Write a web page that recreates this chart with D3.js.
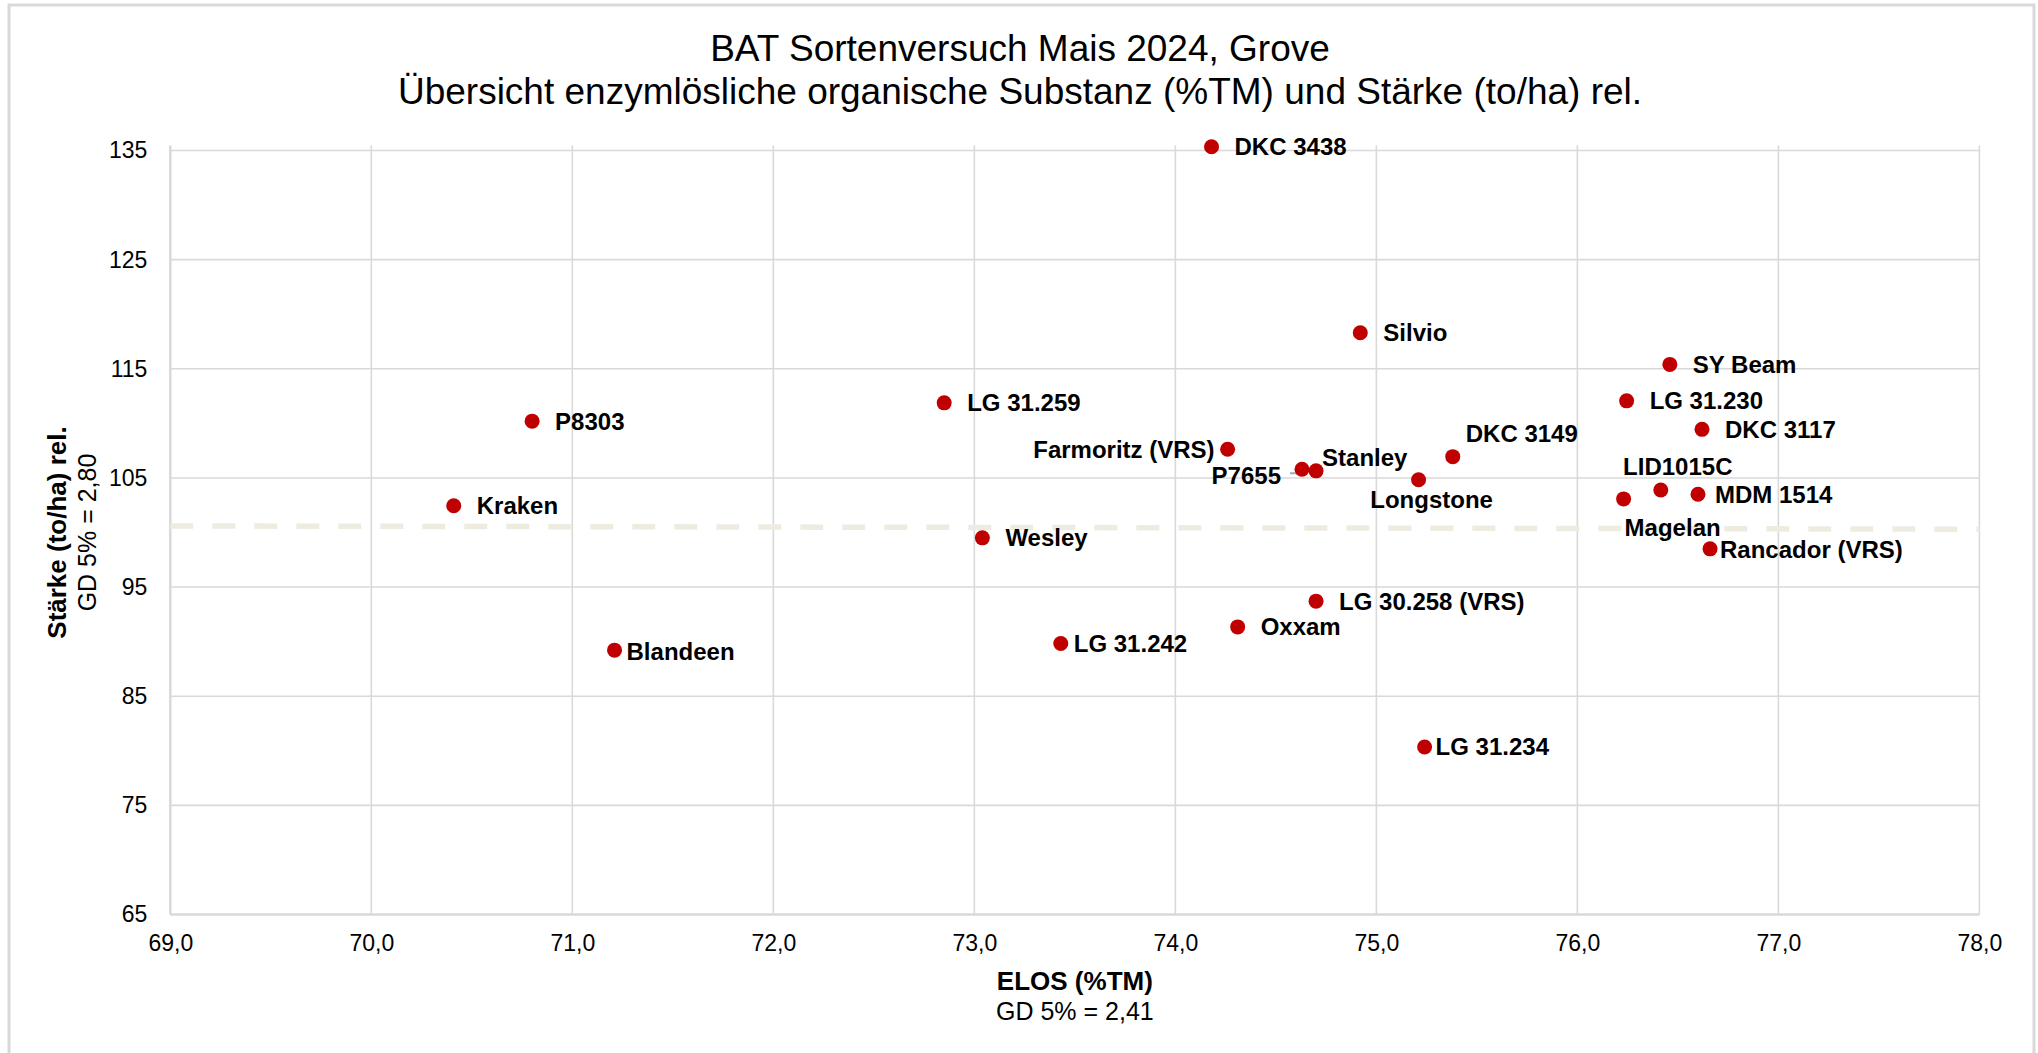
<!DOCTYPE html>
<html>
<head>
<meta charset="utf-8">
<script src="https://cdn.jsdelivr.net/npm/d3@7"></script>
<style>
  html, body { margin: 0; padding: 0; background: #fff; }
  svg { display: block; }
  text { font-family: "Liberation Sans", Arial, sans-serif; }
</style>
</head>
<body>
<svg id="chart" width="2038" height="1053"></svg>
<script>
// ---- data ----
const varieties = ["DKC 3438","Silvio","SY Beam","LG 31.230","LG 31.259","P8303","DKC 3117",
  "Farmoritz (VRS)","DKC 3149","P7655","Stanley","Longstone","LID1015C","MDM 1514","Magelan",
  "Kraken","Wesley","Rancador (VRS)","LG 30.258 (VRS)","Oxxam","LG 31.242","Blandeen","LG 31.234"];
const elos = [74.18, 74.92, 76.46, 76.245, 72.85, 70.80, 76.62,
  74.26, 75.38, 74.63, 74.70, 75.21, 76.415, 76.60, 76.23,
  70.41, 73.04, 76.66, 74.70, 74.31, 73.43, 71.21, 75.24];
const staerke = [135.35, 118.3, 115.4, 112.06, 111.88, 110.2, 109.45,
  107.63, 106.95, 105.8, 105.65, 104.83, 103.9, 103.5, 103.08,
  102.45, 99.51, 98.5, 93.71, 91.35, 89.83, 89.22, 80.35];
const xTicks = [69, 70, 71, 72, 73, 74, 75, 76, 77, 78];
const yTicks = [65, 75, 85, 95, 105, 115, 125, 135];
const trendX = [69, 78];
const trendY = [100.6, 100.3];

const titleLines = ["BAT Sortenversuch Mais 2024, Grove",
  "Übersicht enzymlösliche organische Substanz (%TM) und Stärke (to/ha) rel."];
const xTitle = ["ELOS (%TM)", "GD 5% = 2,41"];
const yTitle = ["Stärke (to/ha) rel.", "GD 5% = 2,80"];

// ---- label placement (layout only) ----
const labelPos = {
  "Farmoritz (VRS)": {dx: -13, dy: 0, anchor: "end"},
  "P7655": {dx: -21, dy: 6, anchor: "end", leader: true},
  "Stanley": {dx: 6, dy: -13, anchor: "start"},
  "Longstone": {dx: 13, dy: 20, anchor: "middle"},
  "DKC 3149": {dx: 69, dy: -23, anchor: "middle"},
  "LID1015C": {dx: 17, dy: -23, anchor: "middle"},
  "Magelan": {dx: 1, dy: 29, anchor: "start"},
  "MDM 1514": {dx: 17, dy: 0, anchor: "start"},
  "Rancador (VRS)": {dx: 10, dy: 1, anchor: "start"},
  "Blandeen": {dx: 12, dy: 1, anchor: "start"},
  "LG 31.242": {dx: 13, dy: 0, anchor: "start"},
  "LG 31.234": {dx: 11, dy: 0, anchor: "start"}
};
const defaultPos = {dx: 23, dy: 0, anchor: "start"};

// ---- drawing ----
const svg = d3.select("#chart");
const W = 2038, H = 1053;
const m = {left: 170.3, right: 1979.4, top: 150.5, bottom: 914.5};

const x = d3.scaleLinear().domain([69, 78]).range([m.left, m.right]);
const y = d3.scaleLinear().domain([65, 135]).range([m.bottom, m.top]);

const grid = "#d9d9d9";

// outer border
svg.append("rect").attr("x", 9).attr("y", 5).attr("width", 2025).attr("height", 1060)
  .attr("fill", "#fff").attr("stroke", grid).attr("stroke-width", 3);

// title
svg.append("g").selectAll("text").data(titleLines).join("text")
  .attr("x", 1020).attr("y", (d, i) => 61 + i * 43)
  .attr("text-anchor", "middle").attr("font-size", 37).attr("fill", "#000")
  .text(d => d);

// vertical gridlines
svg.append("g").selectAll("line").data(xTicks).join("line")
  .attr("x1", d => x(d)).attr("x2", d => x(d))
  .attr("y1", m.top - 5).attr("y2", m.bottom)
  .attr("stroke", grid).attr("stroke-width", d => d === 69 ? 2.5 : 1.6);

// horizontal gridlines
svg.append("g").selectAll("line").data(yTicks).join("line")
  .attr("x1", m.left).attr("x2", m.right)
  .attr("y1", d => y(d)).attr("y2", d => y(d))
  .attr("stroke", grid).attr("stroke-width", d => d === 65 ? 2.5 : 1.6);

// axes labels via d3 axes
const fmtX = v => d3.format(".1f")(v).replace(".", ",");
const xAxis = svg.append("g").attr("transform", `translate(0,${m.bottom})`)
  .call(d3.axisBottom(x).tickValues(xTicks).tickFormat(fmtX).tickSize(0).tickPadding(20));
const yAxis = svg.append("g").attr("transform", `translate(${m.left},0)`)
  .call(d3.axisLeft(y).tickValues(yTicks).tickFormat(d3.format("d")).tickSize(0).tickPadding(23));
[xAxis, yAxis].forEach(a => {
  a.select(".domain").remove();
  a.selectAll("text").attr("font-size", 23).attr("fill", "#000")
    .attr("font-family", "'Liberation Sans', Arial, sans-serif");
});

// trend line (dashed)
svg.append("line")
  .attr("x1", x(trendX[0])).attr("y1", y(trendY[0]))
  .attr("x2", x(trendX[1])).attr("y2", y(trendY[1]))
  .attr("stroke", "#eeece1").attr("stroke-width", 5.5)
  .attr("stroke-dasharray", "23,19");

// axis titles
svg.append("text").attr("x", (m.left + m.right) / 2).attr("y", 990)
  .attr("text-anchor", "middle").attr("font-size", 26).attr("font-weight", "bold")
  .attr("fill", "#000").text(xTitle[0]);
svg.append("text").attr("x", (m.left + m.right) / 2).attr("y", 1020)
  .attr("text-anchor", "middle").attr("font-size", 25)
  .attr("fill", "#000").text(xTitle[1]);
const yc = (m.top + m.bottom) / 2;
svg.append("text").attr("transform", `translate(66,${yc}) rotate(-90)`)
  .attr("text-anchor", "middle").attr("font-size", 26).attr("font-weight", "bold")
  .attr("fill", "#000").text(yTitle[0]);
svg.append("text").attr("transform", `translate(96,${yc}) rotate(-90)`)
  .attr("text-anchor", "middle").attr("font-size", 25)
  .attr("fill", "#000").text(yTitle[1]);

// points data
const pts = varieties.map((n, i) => ({name: n, ex: elos[i], st: staerke[i]}));

// leader lines
const lg = svg.append("g");
pts.forEach(p => {
  const lp = labelPos[p.name];
  if (lp && lp.leader) {
    const px = x(p.ex), py = y(p.st);
    lg.append("path")
      .attr("d", `M${px + lp.dx + 9},${py + 4}H${px}V${py}`)
      .attr("fill", "none").attr("stroke", "#a6a6a6").attr("stroke-width", 2);
  }
});

// markers
svg.append("g").selectAll("circle").data(pts).join("circle")
  .attr("cx", d => x(d.ex)).attr("cy", d => y(d.st)).attr("r", 7.5)
  .attr("fill", "#c00000");

// data labels
svg.append("g").selectAll("text").data(pts).join("text")
  .attr("x", d => x(d.ex) + (labelPos[d.name] || defaultPos).dx)
  .attr("y", d => y(d.st) + (labelPos[d.name] || defaultPos).dy)
  .attr("text-anchor", d => (labelPos[d.name] || defaultPos).anchor)
  .attr("dy", "0.35em")
  .attr("font-size", 24).attr("font-weight", "bold").attr("fill", "#000")
  .text(d => d.name);
</script>
</body>
</html>
